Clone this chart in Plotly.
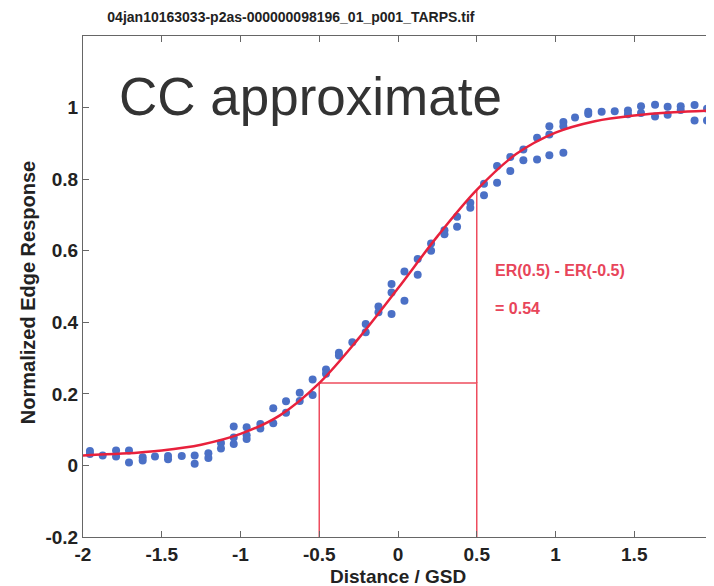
import plotly.graph_objects as go

# measured edge response samples (distance in GSD, normalized response)
dot_x = [-1.956, -1.956, -1.875, -1.790, -1.790, -1.708, -1.708, -1.621, -1.621,
         -1.543, -1.460, -1.460, -1.373, -1.291, -1.291, -1.204, -1.204,
         -1.124, -1.124, -1.043, -1.043, -1.043, -0.961, -0.961, -0.961,
         -0.874, -0.874, -0.792, -0.792, -0.711, -0.711, -0.624, -0.624,
         -0.542, -0.542, -0.457, -0.457, -0.375, -0.375, -0.290,
         -0.205, -0.205, -0.124, -0.124, -0.041, -0.041, -0.041,
         0.041, 0.041, 0.125, 0.125, 0.210, 0.210, 0.295, 0.295,
         0.375, 0.375, 0.459, 0.459, 0.546, 0.546, 0.629, 0.629,
         0.713, 0.713, 0.796, 0.796, 0.883, 0.883, 0.961, 0.961, 0.961,
         1.050, 1.050, 1.050, 1.124, 1.208, 1.208, 1.293, 1.376,
         1.460, 1.460, 1.543, 1.543, 1.632, 1.632, 1.712, 1.712,
         1.795, 1.795, 1.883, 1.883, 1.962, 1.962]
dot_y = [0.040, 0.032, 0.028, 0.042, 0.025, 0.042, 0.008, 0.023, 0.014,
         0.025, 0.026, 0.017, 0.026, 0.028, 0.005, 0.034, 0.021,
         0.063, 0.047, 0.109, 0.078, 0.060, 0.107, 0.084, 0.074,
         0.116, 0.103, 0.160, 0.118, 0.179, 0.147, 0.203, 0.180,
         0.240, 0.197, 0.268, 0.256, 0.315, 0.307, 0.344,
         0.395, 0.372, 0.444, 0.428, 0.507, 0.483, 0.423,
         0.542, 0.460, 0.577, 0.533, 0.620, 0.600, 0.657, 0.646,
         0.695, 0.667, 0.734, 0.720, 0.787, 0.755, 0.837, 0.790,
         0.862, 0.823, 0.883, 0.853, 0.916, 0.855, 0.948, 0.925, 0.867,
         0.960, 0.948, 0.874, 0.972, 0.988, 0.982, 0.988, 0.990,
         0.992, 0.981, 1.004, 0.985, 1.008, 0.975, 1.002, 0.980,
         1.004, 0.993, 1.007, 0.964, 0.997, 0.964]

# fitted curve
fit_x = [-2, -1.75, -1.5, -1.25, -1, -0.75, -0.5, -0.25, 0, 0.25, 0.5, 0.75, 1, 1.25, 1.5, 1.75, 2]
fit_y = [0.028, 0.033, 0.042, 0.058, 0.088, 0.14, 0.23, 0.355, 0.495, 0.64, 0.77, 0.87, 0.93, 0.962, 0.978, 0.987, 0.992]

er_lo = 0.23
er_hi = 0.77

x_ticks = [-2, -1.5, -1, -0.5, 0, 0.5, 1, 1.5, 2]
x_labels = ["-2", "-1.5", "-1", "-0.5", "0", "0.5", "1", "1.5", "2"]
y_ticks = [-0.2, 0, 0.2, 0.4, 0.6, 0.8, 1]
y_labels = ["-0.2", "0", "0.2", "0.4", "0.6", "0.8", "1"]

red = "#e8213c"
line_red = "#ee4d5e"
font = "Liberation Sans, Arial, sans-serif"

fig = go.Figure()

fig.add_trace(go.Scatter(x=dot_x, y=dot_y, mode="markers",
                         marker=dict(color="#4b70c6", size=8), showlegend=False))

# ER(-0.5) / ER(0.5) construction lines
fig.add_trace(go.Scatter(x=[-0.5, -0.5, 0.5, 0.5], y=[-0.2, er_lo, er_lo, -0.2], mode="lines",
                         line=dict(color=line_red, width=1.5), showlegend=False))
fig.add_trace(go.Scatter(x=[0.5, 0.5], y=[er_lo, er_hi], mode="lines",
                         line=dict(color=line_red, width=1.5), showlegend=False))

fig.add_trace(go.Scatter(x=fit_x, y=fit_y, mode="lines",
                         line=dict(color=red, width=2.5, shape="spline"), showlegend=False))

fig.add_annotation(x=-1.784, y=1.03, xref="x", yref="y", text="CC approximate",
                   showarrow=False, xanchor="left", yanchor="middle",
                   font=dict(family=font, size=53, color="#333333"))
fig.add_annotation(x=0.603, y=0.544, xref="x", yref="y", text="<b>ER(0.5) - ER(-0.5)</b>",
                   showarrow=False, xanchor="left", yanchor="middle",
                   font=dict(family=font, size=16, color="#e8455a"))
fig.add_annotation(x=0.603, y=0.438, xref="x", yref="y", text="<b>= 0.54</b>",
                   showarrow=False, xanchor="left", yanchor="middle",
                   font=dict(family=font, size=16, color="#e8455a"))

# axis titles placed by hand
fig.add_annotation(x=0.5, y=0, xref="paper", yref="paper", yshift=-39,
                   text="<b>Distance / GSD</b>", showarrow=False,
                   xanchor="center", yanchor="middle",
                   font=dict(family=font, size=19, color="#222222"))
fig.add_annotation(x=-0.087, y=0.487, xref="paper", yref="paper", textangle=-90,
                   text="<b>Normalized Edge Response</b>", showarrow=False,
                   xanchor="center", yanchor="middle",
                   font=dict(family=font, size=20, color="#222222"))

axis_style = dict(showline=True, linecolor="#666666", linewidth=1, mirror="ticks",
                  ticks="inside", ticklen=6, tickcolor="#666666", showgrid=False,
                  zeroline=False, automargin=False, ticklabeloverflow="allow",
                  tickfont=dict(family=font, size=19, color="#222222", weight="bold"))

fig.update_xaxes(range=[-2, 2], tickvals=x_ticks, ticktext=x_labels, **axis_style)
fig.update_yaxes(range=[-0.2, 1.2], tickvals=y_ticks, ticktext=y_labels, **axis_style)

# page body adds an 8px offset, so the figure is sized to the visible area
fig.update_layout(
    width=706, height=578,
    margin=dict(l=75, r=1, t=28, b=49),
    plot_bgcolor="white", paper_bgcolor="white",
    title=dict(text="<b>04jan10163033-p2as-000000098196_01_p001_TARPS.tif</b>",
               x=0.33, xref="paper", xanchor="center", y=0.9844, yanchor="middle",
               font=dict(family=font, size=14, color="#222222")),
)

fig.write_html("out.html")
